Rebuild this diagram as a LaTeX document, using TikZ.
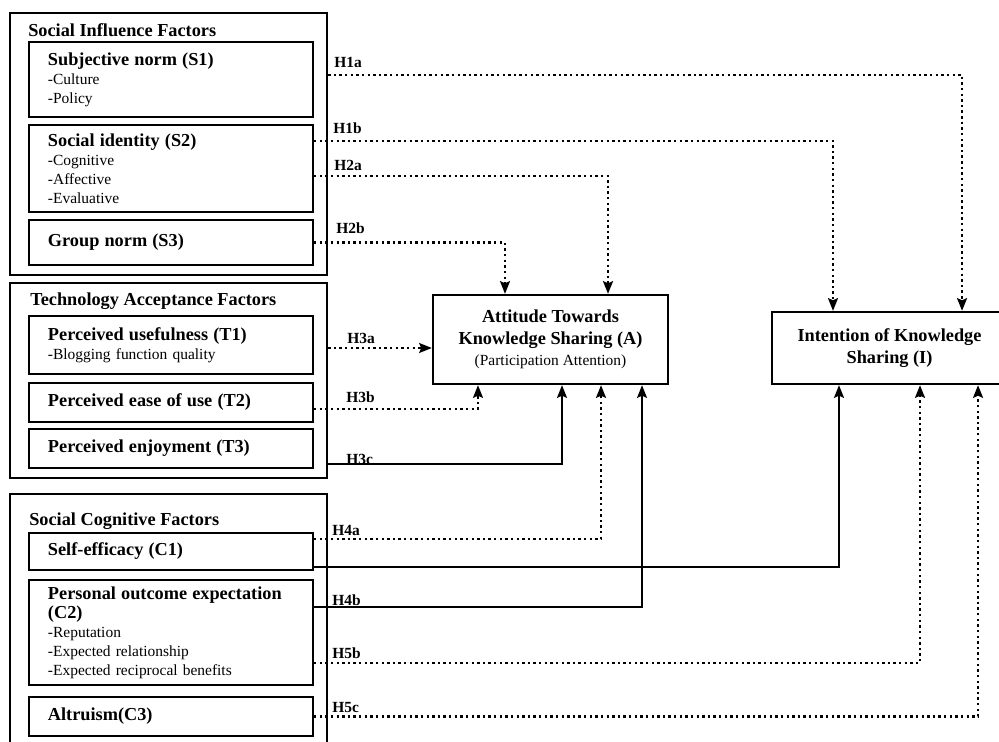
\documentclass[tikz,border=0pt]{standalone}
\usepackage{fontspec}
\setmainfont{Liberation Serif}
\usetikzlibrary{positioning, arrows.meta}

\newcommand{\facname}[1]{{\fontsize{13}{14}\selectfont\bfseries #1}}
\newcommand{\facet}[1]{-#1}

\begin{document}
\begin{tikzpicture}[
    x=0.025cm, y=-0.025cm,
    group/.style={rectangle, draw, line width=1.6pt, minimum width=7.925cm, inner sep=0pt},
    grouptitle/.style={anchor=base west, inner sep=0pt, font=\fontsize{13}{14}\selectfont\bfseries},
    factor/.style={rectangle, draw, line width=1.5pt, minimum width=7.1cm, text width=6.15cm, inner xsep=0.475cm, inner ysep=1pt, align=left, font=\fontsize{11}{13.5}\selectfont},
    construct/.style={rectangle, draw, line width=1.6pt, minimum width=5.875cm, align=center, font=\fontsize{13}{15.5}\selectfont\bfseries},
    hyp/.style={anchor=base west, inner sep=0pt, font=\fontsize{11}{12}\selectfont\bfseries},
    link/.style={->, >={Stealth[length=9pt, width=7pt, inset=1.5pt]}, line width=1.5pt},
    dotlink/.style={link, line width=1.7pt, dash pattern=on 1.7pt off 2.3pt}
]
\useasboundingbox (0,0) rectangle (999,742);

% Factor groups
\node[group, minimum height=6.55cm] (sif) at (168.5,144) {};
\node[group, minimum height=4.875cm] (taf) at (168.5,380.5) {};
\node[group, minimum height=6.45cm] (scf) at (168.5,623) {};

\node[grouptitle] (sif_title) at (28,37) {Social Influence Factors};
\node[grouptitle] (taf_title) at (30,305) {Technology Acceptance Factors};
\node[grouptitle] (scf_title) at (29,525) {Social Cognitive Factors};

% Social influence factors
\node[factor, minimum height=1.875cm] (s1) at (171,79.5) {\facname{Subjective norm (S1)}\\\facet{Culture}\\\facet{Policy}};
\node[factor, minimum height=2.175cm] (s2) at (171,168.5) {\facname{Social identity (S2)}\\\facet{Cognitive}\\\facet{Affective}\\\facet{Evaluative}};
\node[factor, minimum height=1.125cm] (s3) at (171,242.5) {\facname{Group norm (S3)}};

% Technology acceptance factors
\node[factor, minimum height=1.45cm] (t1) at (171,345) {\facname{Perceived usefulness (T1)}\\\facet{Blogging function quality}};
\node[factor, minimum height=0.975cm] (t2) at (171,402.5) {\facname{Perceived ease of use (T2)}};
\node[factor, minimum height=0.975cm] (t3) at (171,448.5) {\facname{Perceived enjoyment (T3)}};

% Social cognitive factors
\node[factor, minimum height=0.925cm] (c1) at (171,551.5) {\facname{Self-efficacy (C1)}};
\node[factor, minimum height=2.625cm] (c2) at (171,632.5) {\facname{Personal outcome expectation}\\\facname{(C2)}\\\facet{Reputation}\\\facet{Expected relationship}\\\facet{Expected reciprocal benefits}};
\node[factor, minimum height=0.975cm] (c3) at (171,716.5) {\facname{Altruism(C3)}};

% Outcomes
\node[construct, minimum height=2.225cm] (att) at (550.5,339.5) {Attitude Towards\\Knowledge Sharing (A)\\{\fontsize{11}{15.5}\selectfont\mdseries (Participation Attention)}};
\node[construct, minimum height=1.8cm] (int) at (889.5,348) {Intention of Knowledge\\Sharing (I)};

% Hypotheses
\draw[dotlink] ([yshift=0.1125cm]s1.east -| sif.east) -| ([xshift=1.8125cm]int.north);
\draw[dotlink] ([yshift=0.6875cm]s2.east) -| ([xshift=-1.4125cm]int.north);
\draw[dotlink] ([yshift=-0.1875cm]s2.east) -| ([xshift=1.4375cm]att.north);
\draw[dotlink] (s3.east) -| ([xshift=-1.1375cm]att.north);
\draw[dotlink] ([yshift=-0.075cm]t1.east -| taf.east) -- ([yshift=-0.075cm]t1.east -| att.west);
\draw[dotlink] ([yshift=-0.1625cm]t2.east) -| ([xshift=-1.8125cm]att.south);
\draw[link] ([yshift=-0.3875cm]t3.east -| taf.east) -| ([xshift=0.2875cm]att.south);
\draw[dotlink] ([yshift=0.3125cm]c1.east) -| ([xshift=1.2625cm]att.south);
\draw[link] ([yshift=-0.3875cm]c1.east) -| ([xshift=-1.2625cm]int.south);
\draw[link] ([yshift=0.6375cm]c2.east) -| ([xshift=2.2875cm]att.south);
\draw[dotlink] ([yshift=-0.7625cm]c2.east) -| ([xshift=0.7625cm]int.south);
\draw[dotlink] (c3.east) -| ([xshift=2.2125cm]int.south);

\node[hyp] (h1a) at (334,68) {H1a};
\node[hyp] (h1b) at (333,133) {H1b};
\node[hyp] (h2a) at (334,170) {H2a};
\node[hyp] (h2b) at (336,233) {H2b};
\node[hyp] (h3a) at (347,343) {H3a};
\node[hyp] (h3b) at (346,402) {H3b};
\node[hyp] (h3c) at (346,464) {H3c};
\node[hyp] (h4a) at (332,535) {H4a};
\node[hyp] (h4b) at (332,605) {H4b};
\node[hyp] (h5b) at (332,658) {H5b};
\node[hyp] (h5c) at (332,712) {H5c};

\end{tikzpicture}
\end{document}
